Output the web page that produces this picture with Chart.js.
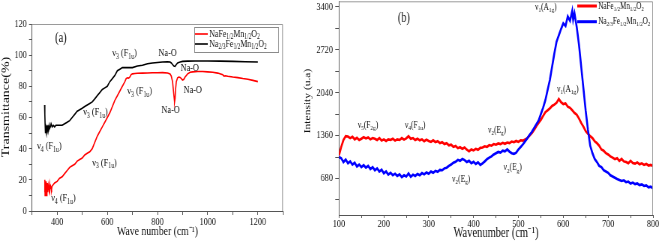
<!DOCTYPE html>
<html>
<head>
<meta charset="utf-8">
<script src="https://cdn.jsdelivr.net/npm/chart.js@4.4.1/dist/chart.umd.min.js"></script>
<style>
  html, body { margin: 0; padding: 0; background: #fff; overflow: hidden; }
  .panel { position: absolute; top: 0; transform: scaleX(0.75); transform-origin: 0 0; }
</style>
</head>
<body>
<div class="panel" style="left:0px"><canvas id="chartA" width="400" height="247"></canvas></div>
<div class="panel" style="left:296px"><canvas id="chartB" width="487" height="247"></canvas></div>
<script>
const SERIF = '"Liberation Serif", "Times New Roman", serif';

// ---- (a) FTIR, transmittance (%) vs wave number
const ftirRedX = [350,351,352,353,354,355,356,357,358,359,360,361,362,363,364,366,368,370,372,374,376,378,380,385,390,400,410,420,430,440,450,460,470,480,490,500,510,520,530,540,550,560,570,580,590,600,610,620,630,640,650,660,670,675,680,685,690,695,700,710,720,740,760,780,800,820,840,850,855,860,863,866,868,870,872,875,880,885,890,895,900,905,910,920,930,940,960,980,1000,1020,1040,1060,1065,1070,1080,1100,1120,1140,1160,1180,1200];
const ftirRedY = [12,20,10,18,11,19,12,17,10,16,13,18,12,16,14,15,13,17,14,16,15,14,16,17,18,19,21,22,24,26,28,29,30,32,33,34,36,37,38,40,44,48,51,54,57,60,63,67,71,74,77,80,83,85,85.5,85.3,86,87.5,88,88.2,88.4,88.5,88.6,88.7,88.7,88.8,88.6,88,86.5,83,78,73,70,72,78,83,85.5,86,85.7,85,84,84.5,86,88,89,89.3,89.5,89.5,89.3,89,88.5,87.5,86.5,86.8,86.5,86,85.6,85,84.5,83.8,83];
const ftirBlackX = [350,351,352,353,354,355,356,357,358,359,360,362,364,366,368,370,373,376,380,385,390,395,400,410,420,430,440,450,460,470,480,490,500,510,520,530,540,550,560,570,580,590,600,610,620,630,640,650,660,670,680,690,700,720,740,760,780,800,820,840,850,855,860,865,870,875,880,890,900,920,950,1000,1050,1100,1150,1200];
const ftirBlackY = [68,62,56,50,55,51,54,50,53,52,55,52,54,53,55,53,54,56,54,55,54,55,55,55,55,56,57,58,60,62,64,65,66,67,68,69,70,72,74,76,78,79,80,83,85,87,90,91,92,92,92,92,92,93,93.5,94.5,95,95.3,95.6,95.8,95.6,95,94,93,92.8,94,95,95.6,96,96.2,96.3,96.3,96.2,96,95.8,95.6];
const ftirXTicks = [300,400,500,600,700,800,900,1000,1100,1200,1300];
const ftirXLabels = [400,600,800,1000,1200];
const ftirYTicks = [0,10,20,30,40,50,60,70,80,90,100,110,120];
const ftirYLabels = [0,20,40,60,80,100,120];

// ---- (b) Raman, intensity vs wavenumber
const ramanRedX = [100,105,110,115,120,125,130,135,140,145,150,155,160,165,170,175,180,185,190,195,200,205,210,215,220,225,230,235,240,245,250,255,260,265,270,275,280,285,290,295,300,305,310,315,320,325,330,335,340,345,350,355,360,365,370,375,380,385,390,395,400,405,410,415,420,425,430,435,440,445,450,455,460,465,470,475,480,485,490,495,500,505,510,515,520,525,530,535,540,545,550,555,560,565,570,575,580,585,590,595,600,605,610,615,620,625,630,635,640,645,650,655,660,665,670,675,680,685,690,695,700,705,710,715,720,725,730,735,740,745,750,755,760,765,770,775,780,785,790,795,800];
const ramanRedY = [1047,1180,1290,1350,1345,1320,1340,1300,1325,1290,1310,1335,1315,1330,1300,1320,1310,1290,1320,1280,1300,1275,1300,1290,1310,1280,1300,1290,1320,1295,1315,1350,1310,1320,1290,1310,1285,1300,1270,1295,1275,1260,1285,1255,1270,1240,1255,1225,1240,1205,1215,1180,1195,1160,1175,1150,1170,1135,1110,1140,1125,1150,1135,1165,1170,1190,1180,1210,1200,1225,1215,1235,1225,1245,1230,1250,1240,1265,1255,1275,1260,1285,1280,1300,1320,1360,1400,1450,1510,1560,1610,1670,1730,1760,1790,1830,1850,1880,1940,1890,1860,1870,1820,1800,1760,1720,1690,1630,1560,1500,1430,1390,1350,1320,1270,1240,1200,1140,1120,1080,1060,1030,1010,985,1000,960,990,950,940,920,960,925,915,935,905,920,895,910,885,895,875];
const ramanBlueX = [100,105,110,115,120,125,130,135,140,145,150,155,160,165,170,175,180,185,190,195,200,205,210,215,220,225,230,235,240,245,250,255,260,265,270,275,280,285,290,295,300,305,310,315,320,325,330,335,340,345,350,355,360,365,370,375,380,385,390,395,400,405,410,415,420,425,430,435,440,445,450,455,460,465,470,475,480,485,490,495,500,505,510,515,520,525,530,535,540,545,550,555,560,565,570,575,580,585,590,595,600,605,610,615,620,622,625,630,635,640,645,650,655,660,665,670,675,680,685,690,695,700,705,710,715,720,725,730,735,740,745,750,755,760,765,770,775,780,785,790,795,800];
const ramanBlueY = [1020,1000,940,980,920,950,900,930,870,900,860,890,850,880,830,860,810,840,790,820,760,790,740,770,730,755,720,745,700,730,710,760,705,740,720,750,730,765,745,775,755,790,770,800,785,815,810,840,850,880,900,930,945,975,960,990,970,940,960,920,945,910,935,895,920,950,985,1010,1030,1060,1080,1100,1090,1120,1110,1140,1105,1080,1070,1090,1140,1180,1220,1270,1320,1370,1420,1480,1540,1600,1700,1800,1920,2080,2240,2450,2660,2850,2950,3050,3140,3100,3250,3180,3340,3200,3300,3080,2800,2450,2100,1750,1450,1200,1080,990,940,880,860,810,790,770,730,710,690,670,655,640,650,620,630,600,615,590,600,575,585,560,570,540,550,520];
const ramanXTicks = [100,150,200,250,300,350,400,450,500,550,600,650,700,750,800];
const ramanXLabels = [100,200,300,400,500,600,700,800];
const ramanYTicks = [340,680,1020,1360,1700,2040,2380,2720,3060,3400];
const ramanYLabels = [680,1360,2040,2720,3400];

const sampleA = "NaFe_{1/2}Mn_{1/2}O_{2}";
const sampleB = "Na_{2/3}Fe_{1/2}Mn_{1/2}O_{2}";

// band labels: text, x value, y value, font size
const ftirNotes = [
  ["ν_{3} (F_{1u})", 620, 101, 11],
  ["Na-O", 804, 101, 11],
  ["Na-O", 892, 92, 11],
  ["ν_{3} (F_{1u})", 680, 77, 11],
  ["Na-O", 904, 77.7, 11],
  ["Na-O", 816, 65, 11],
  ["ν_{3} (F_{1u})", 504, 63.5, 11],
  ["ν_{4} (F_{1u})", 320, 41.7, 11],
  ["ν_{3} (F_{1u})", 540, 31, 11],
  ["ν_{4} (F_{1u})", 376, 8, 11],
  ["(a)", 392, 111, 14],
];
const ramanNotes = [
  ["ν_{1}(A_{1g})", 537, 3395, 10],
  ["ν_{1}(A_{1g})", 586, 2095, 10],
  ["ν_{5}(F_{2g})", 142, 1525, 10],
  ["ν_{4}(F_{1u})", 247, 1525, 10],
  ["ν_{2}(E_{g})", 432, 1445, 10],
  ["ν_{2}(E_{g})", 352, 670, 10],
  ["ν_{2}(E_{g})", 467, 851, 10],
  ["(b)", 231, 3221, 14],
];

function parseRich(str) {
  const parts = [];
  const re = /_\{([^}]*)\}/g;
  let last = 0, m;
  while ((m = re.exec(str))) {
    if (m.index > last) parts.push([str.slice(last, m.index), ""]);
    parts.push([m[1], "sub"]);
    last = re.lastIndex;
  }
  if (last < str.length) parts.push([str.slice(last), ""]);
  return parts;
}

function richText(ctx, x, y, str, size) {
  let cx = x;
  parseRich(str).forEach(([t, k]) => {
    const s = k ? size * 0.7 : size;
    const dy = k ? size * 0.32 : 0;
    ctx.font = s + "px " + SERIF;
    ctx.fillText(t, cx, y + dy);
    cx += ctx.measureText(t).width;
  });
}

function decor(opts) {
  return {
    id: "decor",
    afterDatasetsDraw(chart) {
      const { ctx, chartArea: a, scales } = chart;
      ctx.save();
      ctx.strokeStyle = "#9a9a9a";
      ctx.lineWidth = 1;
      ctx.beginPath();
      ctx.moveTo(a.left, a.top + 0.5);
      ctx.lineTo(a.right - 0.5, a.top + 0.5);
      ctx.lineTo(a.right - 0.5, a.bottom);
      ctx.stroke();

      ctx.fillStyle = "#111";
      ctx.textBaseline = "middle";
      ctx.textAlign = "left";
      opts.notes.forEach(([text, x, y, size]) => {
        richText(ctx, scales.x.getPixelForValue(x), scales.y.getPixelForValue(y), text, size);
      });

      const L = opts.legend;
      if (L.box) {
        ctx.strokeStyle = "#8a8a8a";
        ctx.lineWidth = 1;
        ctx.strokeRect(L.box[0] + 0.5, L.box[1] + 0.5, L.box[2], L.box[3]);
      }
      L.items.forEach((it, i) => {
        const y = L.y + i * L.gap;
        ctx.strokeStyle = it.color;
        ctx.lineWidth = L.lineWidth;
        ctx.beginPath();
        ctx.moveTo(L.x, y);
        ctx.lineTo(L.x + L.len, y);
        ctx.stroke();
        ctx.fillStyle = "#111";
        richText(ctx, L.x + L.len + 2, y, it.text, L.size);
      });
      ctx.restore();
    },
  };
}

function pts(xs, ys) {
  return xs.map((x, i) => ({ x: x, y: ys[i] }));
}

function axis(min, max, tickVals, labelVals, title, extra) {
  return Object.assign({
    type: "linear",
    min: min,
    max: max,
    afterBuildTicks: (s) => { s.ticks = tickVals.map((v) => ({ value: v })); },
    ticks: {
      autoSkip: false,
      maxRotation: 0,
      color: "#111",
      font: { family: SERIF, size: 11 },
      callback: (v) => (labelVals.includes(v) ? String(v) : ""),
    },
    grid: { drawOnChartArea: false, tickLength: 4, tickColor: "#555" },
    border: { color: "#555" },
    title: { display: true, text: title, color: "#111", font: { family: SERIF, size: 13 }, padding: 0 },
  }, extra);
}

// leading no-break spaces nudge the rotated titles up a little, as in the figure
const NB = "\u00a0";

const chartA = new Chart(document.getElementById("chartA").getContext("2d"), {
  type: "line",
  data: {
    datasets: [
      { label: sampleA, data: pts(ftirRedX, ftirRedY), borderColor: "#ff0000", borderWidth: 1.6, pointRadius: 0, tension: 0, order: 2 },
      { label: sampleB, data: pts(ftirBlackX, ftirBlackY), borderColor: "#000000", borderWidth: 1.6, pointRadius: 0, tension: 0, order: 1 },
    ],
  },
  options: {
    responsive: false,
    animation: false,
    layout: { padding: { left: 0, top: 24, right: 22.7, bottom: 8 } },
    scales: {
      x: axis(300, 1300, ftirXTicks, ftirXLabels, "Wave number (cm⁻¹)", {
        afterFit: (s) => { s.height = 28; s.paddingLeft = 0; s.paddingRight = 0; },
      }),
      y: axis(0, 120, ftirYTicks, ftirYLabels, NB.repeat(6) + "Transmittance(%)", {
        afterFit: (s) => { s.width = 42.7; s.paddingTop = 0; s.paddingBottom = 0; },
      }),
    },
    plugins: { legend: { display: false }, tooltip: { enabled: false } },
  },
  plugins: [decor({
    notes: ftirNotes,
    legend: {
      box: [259, 27, 112, 25], x: 260, y: 34, gap: 10, len: 17, lineWidth: 1.6, size: 10.5,
      items: [{ text: sampleA, color: "#ff0000" }, { text: sampleB, color: "#000000" }],
    },
  })],
});
chartA.options.scales.y.title.font.size = 14;
chartA.options.scales.x.ticks.padding = 1;
chartA.update();

const chartB = new Chart(document.getElementById("chartB").getContext("2d"), {
  type: "line",
  data: {
    datasets: [
      { label: sampleA, data: pts(ramanRedX, ramanRedY), borderColor: "#ff0000", borderWidth: 2.6, pointRadius: 0, tension: 0, order: 2 },
      { label: sampleB, data: pts(ramanBlueX, ramanBlueY), borderColor: "#0000ff", borderWidth: 2.6, pointRadius: 0, tension: 0, order: 1 },
    ],
  },
  options: {
    responsive: false,
    animation: false,
    layout: { padding: { left: 0, top: 1, right: 11, bottom: 5 } },
    scales: {
      x: axis(100, 800, ramanXTicks, ramanXLabels, "Wavenumber (cm⁻¹)", {
        afterFit: (s) => { s.height = 27; s.paddingLeft = 0; s.paddingRight = 0; },
      }),
      y: axis(100, 3490, ramanYTicks, ramanYLabels, NB.repeat(5) + "Intensity (u.a)", {
        afterFit: (s) => { s.width = 57.3; s.paddingTop = 0; s.paddingBottom = 0; },
      }),
    },
    plugins: { legend: { display: false }, tooltip: { enabled: false } },
  },
  plugins: [decor({
    notes: ramanNotes,
    legend: {
      box: null, x: 375, y: 6, gap: 15.7, len: 26, lineWidth: 3, size: 9.5,
      items: [{ text: sampleA, color: "#ff0000" }, { text: sampleB, color: "#0000ff" }],
    },
  })],
});
chartB.options.scales.x.title.font.size = 14;
chartB.options.scales.x.ticks.padding = 0;
chartB.options.scales.x.grid.tickLength = 3;
chartB.options.scales.y.title.font.size = 11.5;
chartB.options.scales.y.title.padding = { top: 9 };
chartB.options.scales.y.ticks.padding = 3;
chartB.options.scales.y.grid.tickLength = 5;
chartB.update();
</script>
</body>
</html>
